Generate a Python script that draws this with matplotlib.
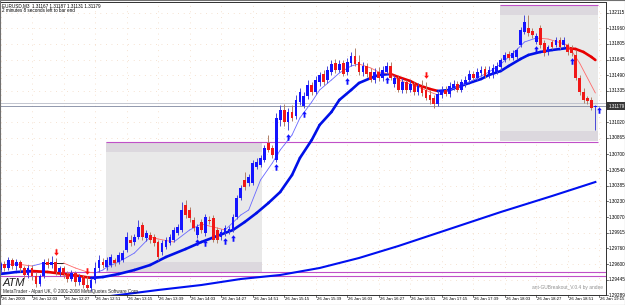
import numpy as np
import matplotlib.pyplot as plt
from matplotlib.patches import Rectangle
from matplotlib.collections import LineCollection
from matplotlib.path import Path

# EURUSD M3 bars
opens = [1.2954, 1.2960, 1.2956, 1.2964, 1.2958, 1.2962, 1.2956, 1.2949,
         1.2956, 1.2948, 1.2940, 1.2948, 1.2962, 1.2959, 1.2962, 1.2952,
         1.2956, 1.2950, 1.2945, 1.2951, 1.2942, 1.2947, 1.2939, 1.2936,
         1.2944, 1.2956, 1.2962, 1.2957, 1.2959, 1.2964, 1.2962, 1.2964,
         1.2974, 1.2984, 1.2982, 1.2987, 1.2999, 1.2986, 1.2989, 1.2987,
         1.2982, 1.2972, 1.2977, 1.2981, 1.2984, 1.2991, 1.2994, 1.3019,
         1.3014, 1.3004, 1.2989, 1.3002, 1.2991, 1.3004, 1.3006, 1.2994,
         1.2987, 1.2991, 1.2993, 1.2994, 1.3007, 1.3026, 1.3044, 1.3041,
         1.3041, 1.3057, 1.3059, 1.3064, 1.3081, 1.3076, 1.3064, 1.3104,
         1.3114, 1.3102, 1.3112, 1.3108, 1.3122, 1.3118, 1.3128, 1.3139,
         1.3132, 1.3142, 1.3150, 1.3144, 1.3152, 1.3161, 1.3154, 1.3161,
         1.3152, 1.3161, 1.3168, 1.3162, 1.3152, 1.3158, 1.3152, 1.3144,
         1.3152, 1.3146, 1.3152, 1.3158, 1.3140, 1.3146, 1.3134, 1.3142,
         1.3134, 1.3140, 1.3132, 1.3138, 1.3134, 1.3129, 1.3126, 1.3120,
         1.3129, 1.3134, 1.3130, 1.3136, 1.3140, 1.3134, 1.3140, 1.3144,
         1.3150, 1.3146, 1.3151, 1.3155, 1.3148, 1.3149, 1.3152, 1.3157,
         1.3164, 1.3170, 1.3166, 1.3167, 1.3179, 1.3192, 1.3196, 1.3193,
         1.3182, 1.3196, 1.3181, 1.3172, 1.3182, 1.3179, 1.3184, 1.3179,
         1.3179, 1.3176, 1.3169, 1.3146, 1.3132, 1.3126, 1.3124, 1.31167]
highs = [1.2962, 1.2963, 1.2967, 1.2966, 1.2965, 1.2964, 1.2958, 1.2959,
         1.2959, 1.2952, 1.2950, 1.2965, 1.2966, 1.2968, 1.2966, 1.2958,
         1.2958, 1.2953, 1.2954, 1.2953, 1.2950, 1.2949, 1.2948, 1.2946,
         1.2962, 1.2969, 1.2966, 1.2967, 1.2970, 1.2966, 1.2972, 1.2974,
         1.2992, 1.2989, 1.2990, 1.3004, 1.3002, 1.2994, 1.2992, 1.2990,
         1.2984, 1.2984, 1.2987, 1.2990, 1.2997, 1.3000, 1.3022, 1.3024,
         1.3017, 1.3007, 1.3000, 1.3005, 1.3010, 1.3008, 1.3009, 1.2997,
         1.2995, 1.2999, 1.2998, 1.3010, 1.3029, 1.3039, 1.3052, 1.3050,
         1.3064, 1.3066, 1.3069, 1.3079, 1.3089, 1.3079, 1.3111, 1.3119,
         1.3120, 1.3116, 1.3119, 1.3129, 1.3136, 1.3132, 1.3144, 1.3142,
         1.3148, 1.3152, 1.3154, 1.3158, 1.3164, 1.3165, 1.3164, 1.3164,
         1.3166, 1.3172, 1.3176, 1.3169, 1.3162, 1.3161, 1.3156, 1.3156,
         1.3157, 1.3158, 1.3162, 1.3162, 1.3149, 1.3148, 1.3146, 1.3144,
         1.3144, 1.3142, 1.3141, 1.3144, 1.3142, 1.3134, 1.3129, 1.3134,
         1.3138, 1.3138, 1.3142, 1.3144, 1.3143, 1.3145, 1.3148, 1.3154,
         1.3153, 1.3156, 1.3158, 1.3158, 1.3158, 1.3160, 1.3162, 1.3166,
         1.3172, 1.3173, 1.3174, 1.3176, 1.3197, 1.3209, 1.3209, 1.3196,
         1.3191, 1.3199, 1.3184, 1.3179, 1.3184, 1.3187, 1.3187, 1.3187,
         1.3181, 1.3179, 1.3174, 1.3149, 1.3136, 1.3128, 1.3127, 1.31187]
lows = [1.2951, 1.2953, 1.2954, 1.2955, 1.2954, 1.2952, 1.2946, 1.2946,
        1.2944, 1.2937, 1.2938, 1.2946, 1.2956, 1.2956, 1.2949, 1.2948,
        1.2946, 1.2942, 1.2943, 1.2938, 1.2939, 1.2936, 1.2934, 1.2933,
        1.2941, 1.2952, 1.2956, 1.2954, 1.2957, 1.2958, 1.2960, 1.2962,
        1.2972, 1.2978, 1.2979, 1.2985, 1.2984, 1.2983, 1.2981, 1.2978,
        1.2964, 1.2969, 1.2975, 1.2979, 1.2982, 1.2989, 1.2992, 1.3006,
        1.3002, 1.2993, 1.2986, 1.2991, 1.2988, 1.3000, 1.2982, 1.2981,
        1.2984, 1.2988, 1.2990, 1.2992, 1.3005, 1.3024, 1.3034, 1.3038,
        1.3039, 1.3055, 1.3057, 1.3062, 1.3072, 1.3066, 1.3062, 1.3098,
        1.3098, 1.3094, 1.3103, 1.3105, 1.3119, 1.3116, 1.3125, 1.3129,
        1.3130, 1.3138, 1.3139, 1.3141, 1.3149, 1.3151, 1.3152, 1.3148,
        1.3149, 1.3158, 1.3158, 1.3149, 1.3148, 1.3147, 1.3142, 1.3141,
        1.3143, 1.3143, 1.3150, 1.3144, 1.3137, 1.3132, 1.3131, 1.3131,
        1.3132, 1.3129, 1.3129, 1.3128, 1.3124, 1.3120, 1.3116, 1.3118,
        1.3126, 1.3128, 1.3127, 1.3134, 1.3132, 1.3132, 1.3137, 1.3142,
        1.3144, 1.3144, 1.3148, 1.3146, 1.3146, 1.3146, 1.3150, 1.3154,
        1.3162, 1.3164, 1.3164, 1.3165, 1.3177, 1.3190, 1.3188, 1.3186,
        1.3180, 1.3176, 1.3168, 1.3169, 1.3175, 1.3177, 1.3175, 1.3177,
        1.3169, 1.3168, 1.3144, 1.3129, 1.3121, 1.3120, 1.3114, 1.3094]
closes = [1.2960, 1.2956, 1.2964, 1.2958, 1.2962, 1.2956, 1.2949, 1.2956,
          1.2948, 1.2940, 1.2948, 1.2962, 1.2959, 1.2962, 1.2952, 1.2956,
          1.2950, 1.2945, 1.2951, 1.2942, 1.2947, 1.2939, 1.2936, 1.2944,
          1.2956, 1.2964, 1.2959, 1.2964, 1.2967, 1.2961, 1.2969, 1.2971,
          1.2987, 1.2981, 1.2987, 1.2997, 1.2987, 1.2991, 1.2984, 1.2981,
          1.2967, 1.2981, 1.2984, 1.2987, 1.2994, 1.2997, 1.3014, 1.3009,
          1.3006, 1.2996, 1.2997, 1.2994, 1.3007, 1.3003, 1.2984, 1.2984,
          1.2992, 1.2996, 1.2995, 1.3007, 1.3026, 1.3036, 1.3037, 1.3047,
          1.3061, 1.3062, 1.3066, 1.3076, 1.3074, 1.3069, 1.3106, 1.3114,
          1.3102, 1.3112, 1.3106, 1.3124, 1.3132, 1.3128, 1.3139, 1.3132,
          1.3144, 1.3149, 1.3142, 1.3154, 1.3160, 1.3154, 1.3160, 1.3150,
          1.3162, 1.3168, 1.3160, 1.3152, 1.3158, 1.3150, 1.3144, 1.3152,
          1.3146, 1.3154, 1.3158, 1.3146, 1.3146, 1.3134, 1.3142, 1.3134,
          1.3140, 1.3132, 1.3138, 1.3131, 1.3126, 1.3124, 1.3120, 1.3130,
          1.3134, 1.3130, 1.3138, 1.3140, 1.3134, 1.3142, 1.3144, 1.3150,
          1.3146, 1.3152, 1.3154, 1.3148, 1.3154, 1.3156, 1.3158, 1.3164,
          1.3169, 1.3166, 1.3171, 1.3174, 1.3194, 1.3202, 1.3191, 1.3189,
          1.3188, 1.3179, 1.3171, 1.3177, 1.3177, 1.3184, 1.3177, 1.3184,
          1.3172, 1.3171, 1.3146, 1.3132, 1.3124, 1.3123, 1.3116, 1.31179]

# slow MA (thick), fast MA (thin) and long MA, sampled at bar numbers
slow_bars = [0, 4, 8, 12, 16, 20, 23, 26, 30, 34, 38, 42, 47, 51, 55, 59, 62, 65, 68, 71,
             74, 76, 79, 81, 84, 86, 89, 91, 94, 96, 99, 101, 104, 106, 109, 111, 114, 116,
             119, 122, 124, 127, 129, 132, 134, 137, 140, 142, 144, 146, 148, 150, 151]
slow_ma = [1.2950, 1.2952, 1.2953, 1.2952, 1.2950, 1.2948, 1.2946, 1.2947, 1.2950, 1.2954,
           1.2959, 1.2967, 1.2975, 1.2982, 1.2988, 1.2994, 1.3002, 1.3011, 1.3021, 1.3032,
           1.3049, 1.3066, 1.3084, 1.3099, 1.3112, 1.3124, 1.3134, 1.3141, 1.3146, 1.3149,
           1.3150, 1.3147, 1.3143, 1.3139, 1.3135, 1.3133, 1.3134, 1.3137, 1.3141, 1.3145,
           1.3149, 1.3153, 1.3158, 1.3165, 1.3169, 1.3172, 1.3174, 1.3175, 1.3176, 1.3175,
           1.3172, 1.3167, 1.3164]
fast_bars = [0, 4, 8, 11, 16, 19, 22, 24, 26, 27, 30, 34, 38, 40, 44, 48, 51, 53, 57, 61, 63,
             66, 69, 71, 74, 76, 79, 81, 84, 86, 89, 91, 94, 96, 99, 101, 104, 106, 109, 111,
             114, 116, 119, 122, 124, 127, 131, 133, 136, 139, 144, 147, 151]
fast_ma = [1.2959, 1.2960, 1.2958, 1.2961, 1.2961, 1.2956, 1.2952, 1.2951, 1.2954, 1.2957,
           1.2962, 1.2971, 1.2987, 1.2985, 1.2982, 1.2994, 1.3000, 1.2998, 1.2994, 1.3009,
           1.3014, 1.3044, 1.3061, 1.3074, 1.3089, 1.3106, 1.3122, 1.3134, 1.3144, 1.3151,
           1.3158, 1.3160, 1.3156, 1.3152, 1.3150, 1.3144, 1.3140, 1.3137, 1.3132, 1.3129,
           1.3134, 1.3137, 1.3142, 1.3148, 1.3152, 1.3160, 1.3174, 1.3182, 1.3186, 1.3185,
           1.3179, 1.3161, 1.3131]
long_bars = [28, 32, 40, 51, 61, 71, 81, 91, 101, 114, 127, 140, 151]
long_ma = [1.2928, 1.2930, 1.2934, 1.2939, 1.2945, 1.2949, 1.2956, 1.2966, 1.2978,
           1.2995, 1.3012, 1.3028, 1.3042]

up_arrow_bars = [50, 52, 57, 59, 70, 73, 77, 88, 98, 136, 145, 151.8]
up_arrow_prices = [1.2982, 1.2981, 1.2983, 1.2986, 1.3057, 1.3087, 1.3110, 1.3143,
                   1.3144, 1.3175, 1.3163, 1.3114]
down_arrow_bars = [14, 22, 108]
down_arrow_prices = [1.2972, 1.2953, 1.3149]

# breakout boxes: left bar, right bar, bottom price, top price
boxes = [(26.8, 66.4, 1.2952, 1.3082), (126.8, 151.7, 1.3083, 1.3219)]
box_band = 0.0010
level_lines = [1.2952, 1.2948]

time_labels = ["26 Jan 2009", "26 Jan 12:03", "26 Jan 12:27", "26 Jan 12:51", "26 Jan 13:15",
               "26 Jan 13:39", "26 Jan 14:03", "26 Jan 14:27", "26 Jan 14:51", "26 Jan 15:15",
               "26 Jan 15:39", "26 Jan 16:03", "26 Jan 16:27", "26 Jan 16:51", "26 Jan 17:15",
               "26 Jan 17:39", "26 Jan 18:03", "26 Jan 18:27", "26 Jan 18:51", "26 Jan 19:15"]
price_labels = [1.32115, 1.31960, 1.31805, 1.31645, 1.31490, 1.31335, 1.31020, 1.30865,
                1.30700, 1.30540, 1.30385, 1.30230, 1.30070, 1.29915, 1.29760, 1.29600,
                1.29445, 1.29289]
bid = 1.31179
ask = 1.31209

W, H = 625, 305
fig = plt.figure(figsize=(W / 100, H / 100), dpi=100)
fig.patch.set_facecolor("white")
ax = fig.add_axes([0, 10 / H, 606 / W, 293 / H])
ax.set_facecolor("white")
ax.set_xlim(-0.13, 153.7)
ax.set_ylim(1.2929, 1.3222)
ax.set_xticks([])
ax.set_yticks([])
for s in ax.spines.values():
    s.set_color("#303030")
    s.set_linewidth(0.7)

fnt = "Liberation Sans"

# dotted grid
for k in range(len(time_labels)):
    ax.axvline(k * 8, color="#ecc8a8", lw=0.5, ls=(0, (1, 7)), zorder=0)
for p in price_labels:
    ax.axhline(p, color="#ecc8a8", lw=0.5, ls=(0, (1, 7)), zorder=0)

# boxes
for x0, x1, y0, y1 in boxes:
    ax.add_patch(Rectangle((x0, y0), x1 - x0, y1 - y0, fc="#e9e9e9", ec="none", zorder=1))
    ax.add_patch(Rectangle((x0, y1 - box_band), x1 - x0, box_band, fc="#dcd8de", ec="none", zorder=1))
    ax.add_patch(Rectangle((x0, y0), x1 - x0, box_band, fc="#dcd8de", ec="none", zorder=1))
ax.hlines(boxes[0][3], boxes[0][0], boxes[1][1], color="#c050c8", lw=0.8, zorder=2)
ax.hlines(boxes[1][3], boxes[1][0], boxes[1][1], color="#c050c8", lw=0.8, zorder=2)
for lv in level_lines:
    ax.axhline(lv, color="#c050c8", lw=0.8, zorder=2)

# bid / ask lines
ax.axhline(ask, color="#b8bcc8", lw=0.6, zorder=2)
ax.axhline(bid, color="#8088a0", lw=0.6, zorder=2)

# long MA
ax.plot(long_bars, long_ma, color="#0010f0", lw=1.5, zorder=3)


def colored_line(xs, ys, up, down, flat, lw, z):
    pts = np.column_stack([xs, ys])
    segs = np.stack([pts[:-1], pts[1:]], axis=1)
    cols = []
    for a, b in zip(ys[:-1], ys[1:]):
        cols.append(flat if a == b else (up if b > a else down))
    ax.add_collection(LineCollection(segs, colors=cols, linewidths=lw, zorder=z,
                                     capstyle="round", joinstyle="round"))


colored_line(slow_bars, slow_ma, "#0010e8", "#e80000", "#000000", 1.9, 4)
colored_line(fast_bars, fast_ma, "#6868ff", "#ff6a6a", "#000000", 0.6, 4)

# candles
for i in range(len(closes)):
    o, h, l, c = opens[i], highs[i], lows[i], closes[i]
    bull = c >= o
    ax.vlines(i, l, h, color="#4848d8" if bull else "#b08068", lw=0.7, zorder=5)
    ax.bar(i, max(abs(c - o), 0.00006), bottom=min(o, c), width=0.7,
           color="#1414ff" if bull else "#f01818", lw=0, zorder=6)

# signal arrows
arrow = Path([(0, 1), (-0.7, 0.1), (-0.28, 0.1), (-0.28, -1), (0.28, -1), (0.28, 0.1),
              (0.7, 0.1), (0, 1)],
             [Path.MOVETO] + [Path.LINETO] * 6 + [Path.CLOSEPOLY])
arrow_dn = Path(arrow.vertices * [1, -1], arrow.codes)
ax.scatter(up_arrow_bars, up_arrow_prices, marker=arrow, s=22, color="#1010ff", lw=0, zorder=7)
ax.scatter(down_arrow_bars, down_arrow_prices, marker=arrow_dn, s=22, color="#ff1010", lw=0, zorder=7)

# axis labels
for k, lab in enumerate(time_labels):
    ax.annotate(lab, xy=(k * 8, 0), xycoords=("data", "axes fraction"), xytext=(0.8, -1.6),
                textcoords="offset points", fontsize=3.1, family=fnt, ha="left", va="top",
                annotation_clip=False)
    ax.plot([k * 8, k * 8], [0, -0.008], transform=ax.get_xaxis_transform(), color="#303030",
            lw=0.5, clip_on=False)
for p in price_labels:
    ax.annotate(f"{p:.5f}", xy=(1, p), xycoords=("axes fraction", "data"), xytext=(1.6, 0),
                textcoords="offset points", fontsize=3.3, family=fnt, ha="left", va="center",
                annotation_clip=False)
    ax.plot([1, 1.004], [p, p], transform=ax.get_yaxis_transform(), color="#303030", lw=0.5,
            clip_on=False)
ax.annotate(f"{bid:.5f}", xy=(1, bid), xycoords=("axes fraction", "data"), xytext=(1.6, 0),
            textcoords="offset points", fontsize=3.3, family=fnt, ha="left", va="center",
            color="white", annotation_clip=False,
            bbox=dict(boxstyle="square,pad=0.35", fc="#383838", ec="none"))

# chart texts
fig.text(2 / W, 1 - 3 / H, "EURUSD,M3  1.31167 1.31187 1.31131 1.31179", fontsize=3.3,
         family=fnt, ha="left", va="top")
fig.text(2 / W, 1 - 8 / H, "2 minutes 8 seconds left to bar end", fontsize=3.3,
         family=fnt, ha="left", va="top")
fig.text(3 / W, 1 - 288.5 / H, "ATM", fontsize=8, family=fnt, style="italic",
         color="#202020", ha="left", va="bottom")
fig.text(3 / W, 1 - 294.5 / H, "MetaTrader - Alpari UK, \u00a9 2001-2008 MetaQuotes Software Corp.",
         fontsize=3.3, family=fnt, ha="left", va="bottom", color="#202020")
fig.text(603 / W, 1 - 290 / H, "ant-GUBreakout_V.0.4 by andee", fontsize=3.5, family=fnt,
         ha="right", va="bottom", color="#909090")

fig.add_artist(Rectangle((0, 0), 1, 1, transform=fig.transFigure, fill=False,
                         ec="#707070", lw=0.8))

fig.savefig("out.png", dpi=100)
